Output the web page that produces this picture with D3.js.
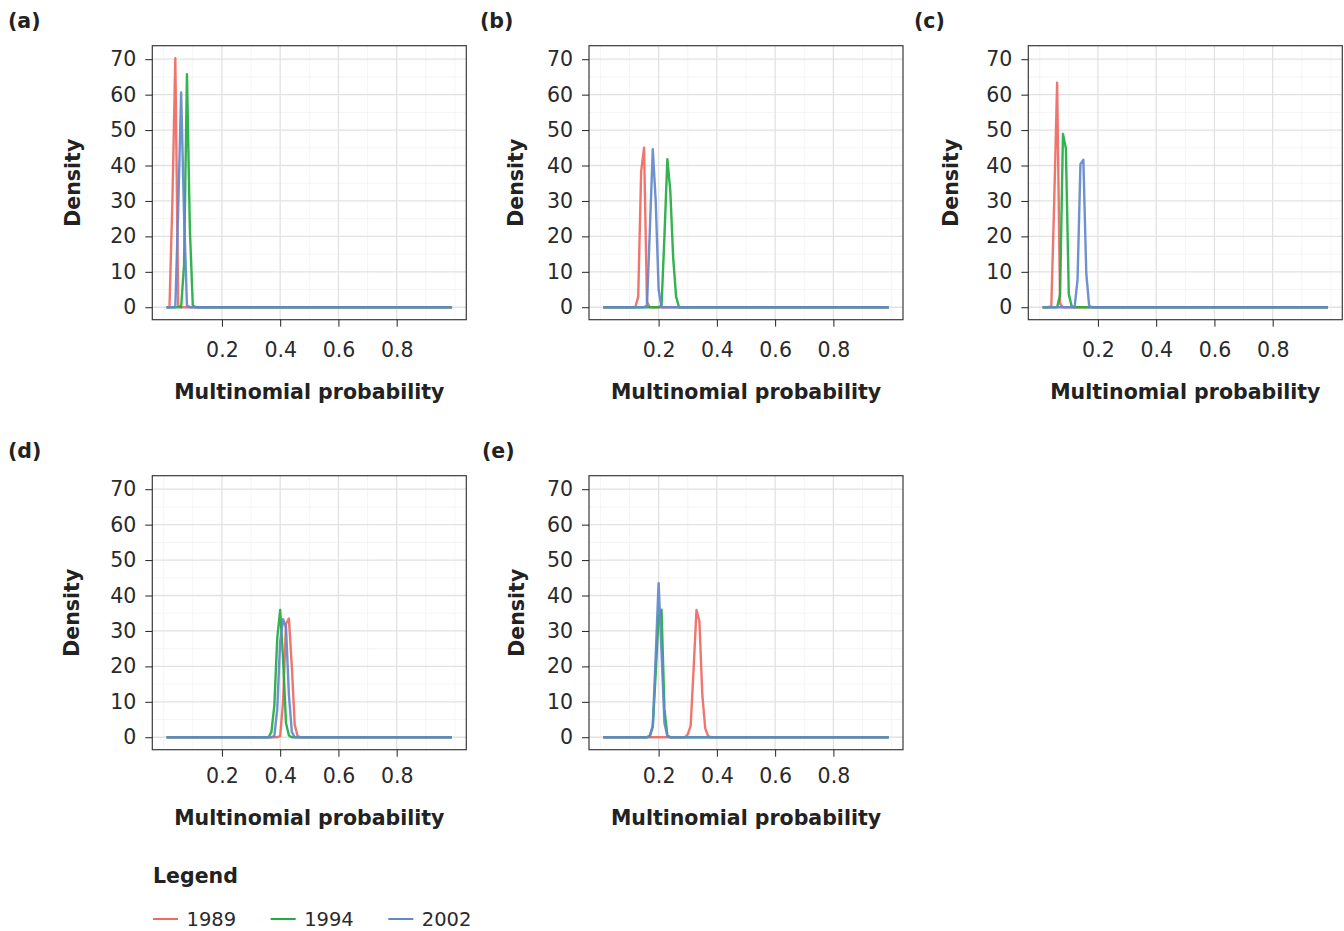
<!DOCTYPE html>
<html>
<head>
<meta charset="utf-8">
<script src="https://cdn.jsdelivr.net/npm/d3@7"></script>
<style>
    body { margin: 0; background: #fff; }
    svg { font-family: "DejaVu Sans", sans-serif; }
</style>
</head>
<body>
<svg id="chart" width="1344" height="931"></svg>
<script>
// density curves, [multinomial probability, density]
const years = ["1989", "1994", "2002"];
const panelLabels = ["(a)", "(b)", "(c)", "(d)", "(e)"];
const xTicks = [0.2, 0.4, 0.6, 0.8];
const yTicks = [0, 10, 20, 30, 40, 50, 60, 70];

const a1989 = [[0.01, 0], [0.02, 0], [0.03, 30], [0.04, 70.3], [0.05, 0.5], [0.06, 0], [0.99, 0]];
const a1994 = [[0.01, 0], [0.06, 0], [0.07, 12], [0.08, 65.8], [0.09, 22], [0.10, 0.5], [0.11, 0], [0.99, 0]];
const a2002 = [[0.01, 0], [0.04, 0], [0.05, 28], [0.06, 60.6], [0.07, 26], [0.08, 0.5], [0.09, 0], [0.99, 0]];

const b1989 = [[0.01, 0], [0.12, 0], [0.13, 3], [0.14, 38.3], [0.15, 45.0], [0.16, 1.5], [0.17, 0], [0.99, 0]];
const b1994 = [[0.01, 0], [0.20, 0], [0.21, 0.5], [0.22, 20], [0.23, 41.8], [0.24, 33], [0.25, 14], [0.26, 3], [0.27, 0], [0.99, 0]];
const b2002 = [[0.01, 0], [0.15, 0], [0.16, 0.5], [0.17, 22], [0.18, 44.6], [0.19, 30], [0.20, 5], [0.21, 0], [0.99, 0]];

const c1989 = [[0.01, 0], [0.03, 0], [0.04, 0.3], [0.05, 30], [0.06, 63.4], [0.07, 1], [0.08, 0], [0.99, 0]];
const c1994 = [[0.01, 0], [0.06, 0], [0.07, 3.5], [0.08, 48.9], [0.09, 44.9], [0.10, 3.7], [0.11, 0.2], [0.12, 0], [0.99, 0]];
const c2002 = [[0.01, 0], [0.12, 0], [0.13, 7.7], [0.14, 40.4], [0.15, 41.6], [0.16, 9.6], [0.17, 0.3], [0.18, 0], [0.99, 0]];

const d1989 = [[0.01, 0], [0.39, 0], [0.40, 0.3], [0.41, 10], [0.42, 32], [0.43, 33.5], [0.44, 20], [0.45, 3.5], [0.46, 0.3], [0.47, 0], [0.99, 0]];
const d1994 = [[0.01, 0], [0.36, 0], [0.37, 1.5], [0.38, 9], [0.39, 28], [0.40, 35.9], [0.41, 22], [0.42, 4], [0.43, 0.5], [0.44, 0], [0.99, 0]];
const d2002 = [[0.01, 0], [0.37, 0], [0.38, 0.3], [0.39, 8], [0.40, 27], [0.41, 33.3], [0.42, 31], [0.43, 12], [0.44, 1.5], [0.45, 0], [0.99, 0]];

const e1989 = [[0.01, 0], [0.29, 0], [0.30, 0.8], [0.31, 3.2], [0.32, 19], [0.33, 35.9], [0.34, 32.8], [0.35, 12], [0.36, 2.5], [0.37, 0.3], [0.38, 0], [0.99, 0]];
const e1994 = [[0.01, 0], [0.16, 0], [0.17, 0.3], [0.18, 3], [0.19, 18], [0.20, 34], [0.21, 36], [0.22, 8], [0.23, 0.5], [0.24, 0], [0.99, 0]];
const e2002 = [[0.01, 0], [0.16, 0], [0.17, 0.5], [0.18, 3.2], [0.19, 23], [0.20, 43.5], [0.21, 24], [0.22, 4], [0.23, 0.3], [0.24, 0], [0.99, 0]];

const panelSeries = [
    [a1989, a1994, a2002],
    [b1989, b1994, b2002],
    [c1989, c1994, c2002],
    [d1989, d1994, d2002],
    [e1989, e1994, e2002]
];

const lineColors = ["#ee6a63", "#22ab40", "#6288cc"];

// panel placement (box left/top, label x, y title x, shift of bottom texts)
const layout = [
    {left: 152.3, top: 45.7, labelX: 8, titleX: 72.5, shift: -2},
    {left: 589, top: 45.7, labelX: 480, titleX: 516, shift: -2},
    {left: 1028.3, top: 45.7, labelX: 914, titleX: 951, shift: -2},
    {left: 152.3, top: 475.7, labelX: 8, titleX: 71.5, shift: -6},
    {left: 589, top: 475.7, labelX: 482, titleX: 517, shift: -6}
];
const boxW = 314, boxH = 274;

const svg = d3.select("#chart");

// ggplot style 5% expansion of data range
const xDomain = [0.01 - 0.049, 0.99 + 0.049];
const yMax = 70.3;
const yDomain = [-yMax * 0.05, yMax * 1.05];

function drawPanel(i) {
    const p = layout[i];
    const g = svg.append("g").attr("transform", `translate(${p.left},${p.top})`);

    const x = d3.scaleLinear().domain(xDomain).range([0, boxW]);
    const y = d3.scaleLinear().domain(yDomain).range([boxH, 0]);

    const xMinor = [0, 0.1, 0.3, 0.5, 0.7, 0.9, 1.0];
    const yMinor = d3.range(5, 70, 10);

    g.selectAll(".xminor").data(xMinor).join("line")
        .attr("x1", d => x(d)).attr("x2", d => x(d))
        .attr("y1", 0).attr("y2", boxH)
        .attr("stroke", "#f2f2f2").attr("stroke-width", 0.8);
    g.selectAll(".yminor").data(yMinor).join("line")
        .attr("x1", 0).attr("x2", boxW)
        .attr("y1", d => y(d)).attr("y2", d => y(d))
        .attr("stroke", "#f2f2f2").attr("stroke-width", 0.8);
    g.selectAll(".xmajor").data(xTicks).join("line")
        .attr("x1", d => x(d)).attr("x2", d => x(d))
        .attr("y1", 0).attr("y2", boxH)
        .attr("stroke", "#e2e2e2").attr("stroke-width", 1.3);
    g.selectAll(".ymajor").data(yTicks).join("line")
        .attr("x1", 0).attr("x2", boxW)
        .attr("y1", d => y(d)).attr("y2", d => y(d))
        .attr("stroke", "#e2e2e2").attr("stroke-width", 1.3);

    const line = d3.line()
        .x(d => x(d[0]))
        .y(d => y(d[1]));

    panelSeries[i].forEach((s, k) => {
        g.append("path")
            .datum(s)
            .attr("d", line)
            .attr("fill", "none")
            .attr("stroke", lineColors[k])
            .attr("stroke-width", 2.4)
            .attr("stroke-opacity", 0.92)
            .attr("stroke-linejoin", "round");
    });

    g.append("rect")
        .attr("width", boxW).attr("height", boxH)
        .attr("fill", "none").attr("stroke", "#3a3a3a").attr("stroke-width", 1.2);

    const yAxis = g.append("g")
        .call(d3.axisLeft(y).tickValues(yTicks).tickSize(7).tickPadding(9).tickFormat(d3.format("d")));
    yAxis.select(".domain").remove();
    yAxis.selectAll("text").attr("font-size", 20.5).attr("fill", "#2a2a2a").attr("font-family", "DejaVu Sans");
    yAxis.selectAll("line").attr("stroke", "#222");

    const xAxis = g.append("g")
        .attr("transform", `translate(0,${boxH})`)
        .call(d3.axisBottom(x).tickValues(xTicks).tickSize(7).tickPadding(18 + p.shift).tickFormat(d3.format(".1f")));
    xAxis.select(".domain").remove();
    xAxis.selectAll("text").attr("font-size", 20.5).attr("fill", "#2a2a2a").attr("font-family", "DejaVu Sans");
    xAxis.selectAll("line").attr("stroke", "#222");

    g.append("text")
        .attr("x", boxW / 2).attr("y", boxH + 80 + p.shift + 1)
        .attr("text-anchor", "middle")
        .attr("font-size", 20.5).attr("font-weight", "bold").attr("fill", "#222")
        .text("Multinomial probability");

    svg.append("text")
        .attr("transform", `translate(${p.titleX},${p.top + boxH / 2}) rotate(-90)`)
        .attr("dy", "0.36em")
        .attr("text-anchor", "middle")
        .attr("font-size", 20.5).attr("font-weight", "bold").attr("fill", "#222")
        .text("Density");

    svg.append("text")
        .attr("x", p.labelX).attr("y", p.top - 18)
        .attr("font-size", 20.5).attr("font-weight", "bold").attr("fill", "#222")
        .text(panelLabels[i]);
}

for (let i = 0; i < panelSeries.length; i++) {
    drawPanel(i);
}

// legend
svg.append("text")
    .attr("x", 153).attr("y", 883)
    .attr("font-size", 20.5).attr("font-weight", "bold").attr("fill", "#222")
    .text("Legend");

const legendX = d3.scalePoint().domain(years).range([153, 388.3]);
const legendItem = svg.selectAll(".legend-item").data(years).join("g")
    .attr("transform", d => `translate(${legendX(d)},919)`);
legendItem.append("line")
    .attr("x1", 0).attr("x2", 25)
    .attr("stroke", (d, k) => lineColors[k]).attr("stroke-width", 2);
legendItem.append("text")
    .attr("x", 33.5).attr("y", 6.5)
    .attr("font-size", 19.5).attr("fill", "#2a2a2a")
    .text(d => d);
</script>
</body>
</html>
